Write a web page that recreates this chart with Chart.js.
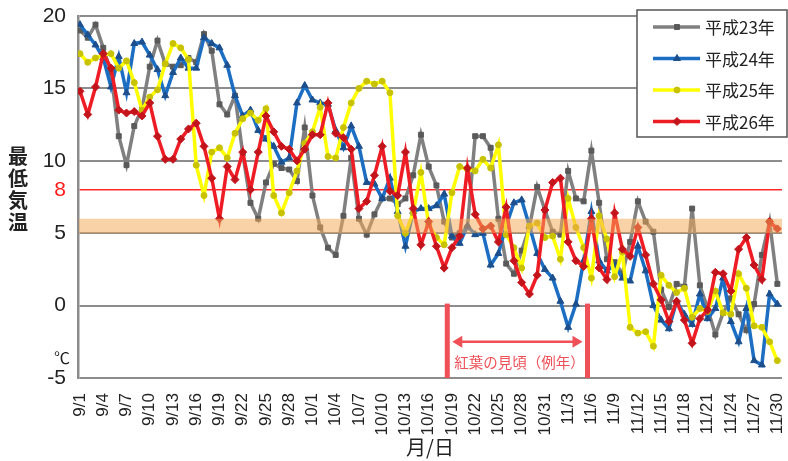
<!DOCTYPE html>
<html>
<head>
<meta charset="utf-8">
<script src="https://cdn.jsdelivr.net/npm/chart.js@4/dist/chart.umd.min.js"></script>
<style>
  html, body { margin: 0; padding: 0; background: #fff; }
  #wrap { width: 788px; height: 461px; }
</style>
</head>
<body>
<div id="wrap"><canvas id="temps"></canvas></div>
<script>
// 9/1 .. 11/30 の日付ラベル
const monthDays = [[9, 30], [10, 31], [11, 30]];
const dates = [];
monthDays.forEach(([m, n]) => {
  for (let d = 1; d <= n; d++) dates.push(m + "/" + d);
});

const seriesNames = ["平成23年", "平成24年", "平成25年", "平成26年"];

const h23 = [
  19.0, 18.5, 19.4, 17.8, 16.1, 11.7, 9.7, 12.4, 13.6, 16.5,
  18.3, 16.7, 16.5, 16.6, 17.1, 16.8, 18.75, 17.6, 13.9, 13.2,
  14.5, 10.5, 7.1, 6.0, 8.5, 9.8, 9.5, 9.4, 8.6, 12.3,
  7.6, 5.4, 4.0, 3.5, 6.2, 10.2, 6.0, 4.9, 6.3, 7.4,
  7.4, 7.0, 7.4, 9.0, 11.8, 9.6, 8.3, 5.8, 4.7, 5.0,
  5.4, 11.7, 11.7, 10.9, 6.0, 2.9, 2.2, 3.8, 5.4, 8.2,
  6.6, 5.1, 4.9, 9.3, 7.4, 7.2, 10.7, 7.1, 3.2, 3.0,
  2.2, 4.4, 7.2, 5.8, 5.1, 1.1, -0.1, 1.5, 1.3, 6.7,
  1.4, -0.2, -2.0, -0.5, 0.5, -0.6, -1.7, 0.1, 3.5, 5.8, 1.5,
];
const h24 = [
  19.4, 18.7, 18.0, 17.1, 15.1, 17.2, 14.7, 18.1, 18.2, 17.3,
  16.3, 14.5, 16.1, 17.1, 16.4, 16.4, 18.5, 18.1, 17.8, 16.6,
  14.5, 13.1, 13.5, 12.1, 11.5, 11.0, 9.9, 10.2, 14.0, 15.2,
  14.2, 14.0, 13.9, 12.1, 10.9, 12.4, 11.0, 8.5, 8.4, 7.4,
  8.8, 6.5, 4.1, 6.5, 6.7, 6.7, 6.9, 7.7, 4.8, 4.3,
  5.5, 4.9, 5.0, 2.8, 3.6, 5.5, 7.1, 7.3, 5.5, 3.6,
  2.5, 1.9, 0.3, -1.5, 0.1, 3.1, 6.5, 3.1, 2.4, 2.8,
  1.9, 1.7, 4.1, 2.4, 0.0, -1.0, -1.6, 0.3, -0.6, -1.3,
  0.8, -0.9, -0.2, 1.9, -1.1, -2.5, -0.2, -3.8, -4.1, 0.8, 0.1,
];
const h25 = [
  17.4, 16.8, 17.1, 17.3, 17.4, 16.4, 16.9, 15.4, 13.5, 14.4,
  14.9, 16.7, 18.1, 17.8, 17.0, 9.7, 7.6, 10.6, 10.9, 10.2,
  11.9, 12.9, 13.3, 12.8, 13.6, 7.6, 6.4, 7.8, 9.3, 11.2,
  12.0, 13.7, 10.3, 10.2, 12.3, 14.0, 15.0, 15.5, 15.3, 15.5,
  14.7, 6.2, 5.0, 6.4, 9.2, 5.6, 4.7, 4.2, 7.8, 9.6,
  9.4, 9.3, 10.1, 9.5, 11.1, 4.9, 4.0, 2.6, 5.5, 5.7,
  4.7, 4.8, 3.2, 7.4, 5.4, 4.0, 1.9, 6.2, 4.6, 2.0,
  3.7, -1.5, -1.9, -1.8, -2.8, 2.1, 1.4, 0.9, 1.2, -0.8,
  -0.2, -0.4, 1.0, -0.5, -0.6, 2.2, 1.2, -1.4, -1.5, -2.5, -3.8,
];
const h26 = [
  14.8, 13.2, 15.1, 17.4, 16.4, 13.5, 13.3, 13.4, 13.1, 14.0,
  11.7, 10.1, 10.1, 11.5, 12.2, 12.6, 11.0, 8.8, 6.0, 9.6,
  8.7, 10.6, 8.0, 10.6, 13.1, 12.0, 11.0, 10.8, 10.0, 10.8,
  11.8, 11.8, 14.0, 11.9, 11.6, 10.8, 6.7, 7.2, 9.0, 11.0,
  7.9, 7.6, 10.6, 6.7, 4.2, 5.8, 4.1, 2.6, 4.0, 4.8,
  9.5, 6.3, 5.3, 5.5, 4.4, 6.8, 3.1, 1.6, 0.8, 2.1,
  6.6, 8.5, 8.8, 4.4, 3.1, 2.7, 6.0, 2.6, 1.8, 6.4,
  3.9, 3.4, 5.4, 3.5, 1.5, 0.4, -1.1, 0.3, -1.0, -2.6,
  -0.9, -0.3, 2.3, 2.2, 1.0, 3.9, 4.7, 2.8, 1.8, 5.8, 5.3,
];

const yTicks = [-5, 0, 5, 8, 10, 15, 20];
const refLine = 8;          // 赤い基準線
const band = [5, 6];        // 橙色の帯
const peakSpan = ["10/19", "11/6"];
const peakLabel = "紅葉の見頃（例年）";

const styles = [
  { line: "#808080", mark: "#5a5a5a", shape: "rect", r: 3.5 },
  { line: "#1b6ec2", mark: "#1d4f8c", shape: "triangle", r: 4 },
  { line: "#ffff00", mark: "#c8c200", shape: "circle", r: 3 },
  { line: "#ee1c24", mark: "#c3141b", shape: "rectRot", r: 4 },
];

const FONT = "'Liberation Sans', 'Noto Sans CJK JP', sans-serif";
const JP = "'Noto Sans CJK JP', 'Liberation Sans', sans-serif";

const toPoints = (arr) => arr.map((v, i) => ({ x: i, y: v }));

const overlay = {
  id: "overlay",
  afterDatasetsDraw(chart) {
    const { ctx, chartArea: a, scales } = chart;
    const y = scales.y;
    ctx.save();
    ctx.fillStyle = "rgba(246,168,86,0.52)";
    const top = y.getPixelForValue(band[1]);
    const bot = y.getPixelForValue(band[0]);
    ctx.fillRect(a.left + 1, top, a.right - a.left - 1, bot - top);
    ctx.restore();
  },
  afterDraw(chart) {
    const { ctx, chartArea: a, scales } = chart;
    const x = scales.x, y = scales.y;
    ctx.save();

    // 見頃の期間
    const x0 = x.getPixelForValue(dates.indexOf(peakSpan[0]) - 0.6);
    const x1 = x.getPixelForValue(dates.indexOf(peakSpan[1]) - 0.5);
    const yTop = y.getPixelForValue(0) - 2;
    ctx.fillStyle = "#ef4f57";
    ctx.fillRect(x0 - 2.5, yTop, 5, a.bottom - yTop);
    ctx.fillRect(x1 - 2.5, yTop, 5, a.bottom - yTop);
    const ay = y.getPixelForValue(-2.5);
    ctx.strokeStyle = "#ef4f57";
    ctx.lineWidth = 2.5;
    ctx.beginPath();
    ctx.moveTo(x0 + 8, ay);
    ctx.lineTo(x1 - 8, ay);
    ctx.stroke();
    ctx.beginPath();
    ctx.moveTo(x0 + 5, ay); ctx.lineTo(x0 + 15, ay - 6); ctx.lineTo(x0 + 15, ay + 6); ctx.closePath();
    ctx.moveTo(x1 - 5, ay); ctx.lineTo(x1 - 15, ay - 6); ctx.lineTo(x1 - 15, ay + 6); ctx.closePath();
    ctx.fill();
    ctx.font = "14.5px " + JP;
    ctx.textAlign = "center";
    ctx.textBaseline = "middle";
    ctx.fillText(peakLabel, (x0 + x1) / 2 + 2, ay + 21);

    // 単位
    ctx.fillStyle = "#222";
    ctx.font = "16px " + JP;
    ctx.textAlign = "left";
    ctx.fillText("℃", 54, y.getPixelForValue(-3.6));

    // 縦書きの軸タイトル
    ctx.font = "bold 20px " + JP;
    ctx.textAlign = "center";
    ["最", "低", "気", "温"].forEach((c, i) => ctx.fillText(c, 18, 156 + i * 22));

    // 凡例
    const lx = 637, ly = 10, lw = 150, lh = 127;
    ctx.fillStyle = "#fff";
    ctx.fillRect(lx, ly, lw, lh);
    ctx.strokeStyle = "#555";
    ctx.lineWidth = 1.5;
    ctx.strokeRect(lx, ly, lw, lh);
    ctx.font = "17px " + JP;
    ctx.textAlign = "left";
    seriesNames.forEach((name, i) => {
      const s = styles[i];
      const ry = 27 + i * 31.5;
      ctx.strokeStyle = s.line;
      ctx.lineWidth = 3.5;
      ctx.beginPath();
      ctx.moveTo(653, ry);
      ctx.lineTo(700, ry);
      ctx.stroke();
      ctx.fillStyle = s.mark;
      ctx.strokeStyle = s.mark;
      ctx.lineWidth = 1;
      Chart.helpers.drawPoint(ctx, { pointStyle: s.shape, radius: s.r, borderWidth: 1 }, 677, ry);
      ctx.fillStyle = "#222";
      ctx.fillText(name, 705, ry + 1);
    });
    ctx.restore();
  },
};

new Chart(document.getElementById("temps"), {
  type: "line",
  data: {
    datasets: [h23, h24, h25, h26].map((arr, i) => ({
      label: seriesNames[i],
      data: toPoints(arr),
      borderColor: styles[i].line,
      backgroundColor: styles[i].mark,
      pointBorderColor: styles[i].mark,
      pointStyle: styles[i].shape,
      pointRadius: styles[i].r,
      pointBorderWidth: 1,
      borderWidth: 3.5,
      tension: 0,
      order: 3 - i,
    })),
  },
  options: {
    responsive: true,
    maintainAspectRatio: false,
    animation: false,
    events: [],
    layout: { padding: { top: 16, right: 6, left: 0, bottom: 0 } },
    plugins: {
      legend: { display: false },
      tooltip: { enabled: false },
    },
    scales: {
      x: {
        type: "linear",
        min: -0.26,
        max: 90.6,
        afterBuildTicks: (s) => {
          s.ticks = dates.map((d, i) => ({ value: i })).filter((t) => t.value % 3 === 0);
        },
        afterFit: (s) => {
          s.height = 83;
          s.paddingLeft = 0;
          s.paddingRight = 0;
        },
        grid: { display: false },
        border: { display: false },
        ticks: {
          autoSkip: false,
          minRotation: 90,
          maxRotation: 90,
          padding: 7,
          color: "#222",
          font: { size: 17, family: FONT },
          callback: (v) => dates[v],
        },
        title: {
          display: true,
          text: "月/日",
          color: "#222",
          font: { size: 20, family: JP },
          padding: { top: 0, bottom: 2 },
        },
      },
      y: {
        min: -5,
        max: 20,
        afterBuildTicks: (s) => { s.ticks = yTicks.map((v) => ({ value: v })); },
        afterFit: (s) => {
          s.width = 78;
          s.paddingTop = 0;
          s.paddingBottom = 0;
        },
        grid: {
          color: (c) => (c.tick && c.tick.value === refLine ? "#ff2a2a" : "#8c8c8c"),
          lineWidth: (c) => (c.tick && c.tick.value === refLine ? 1.5 : 2),
          drawTicks: false,
        },
        border: { color: "#8c8c8c", width: 2.5 },
        ticks: {
          padding: 12,
          color: (c) => (c.tick && c.tick.value === refLine ? "#ff1a1a" : "#222"),
          font: { size: 21, family: FONT },
        },
      },
    },
  },
  plugins: [overlay],
});
</script>
</body>
</html>
